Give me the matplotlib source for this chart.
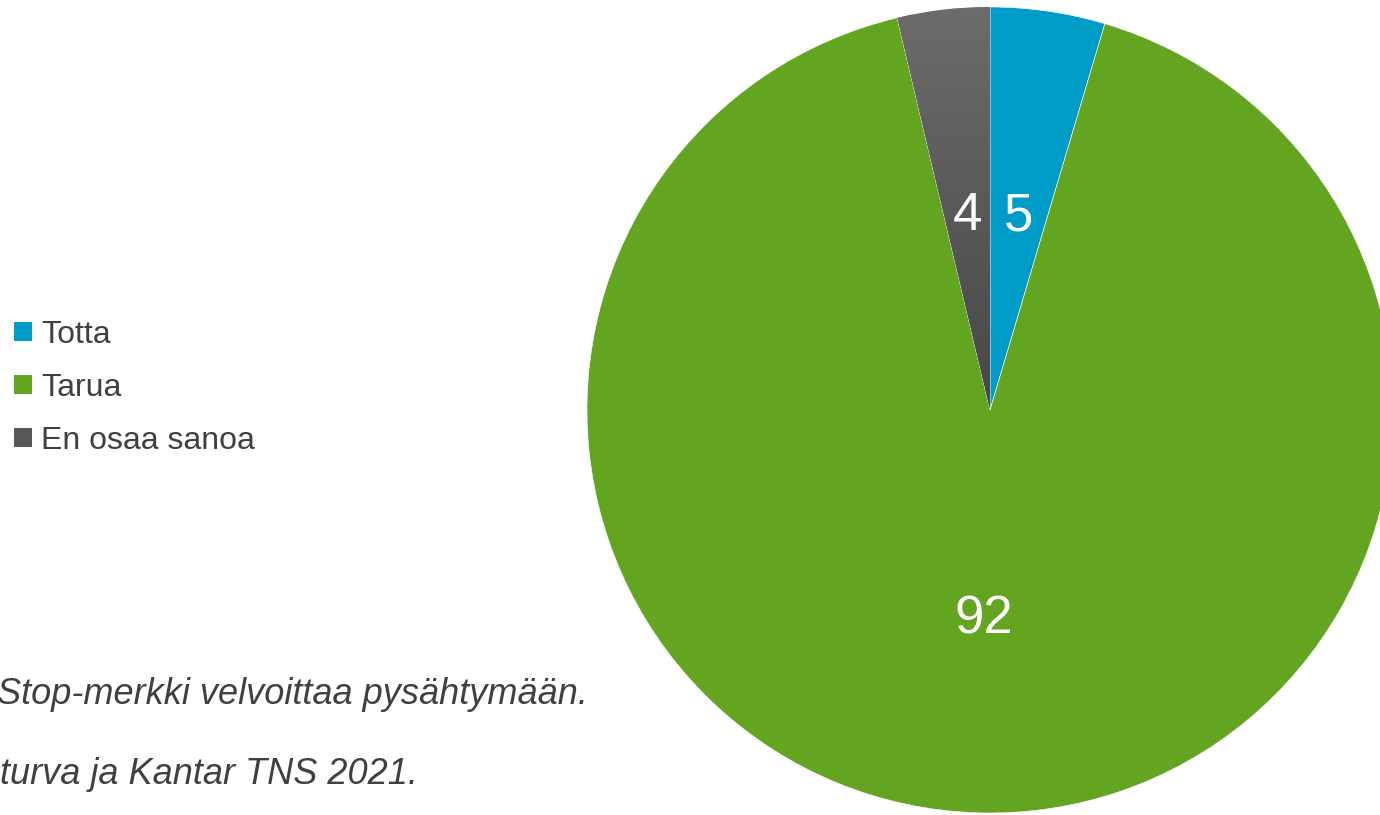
import matplotlib.pyplot as plt
import numpy as np
from matplotlib.patches import Patch
from matplotlib.colors import LinearSegmentedColormap

plt.rcParams['font.family'] = ['Liberation Sans', 'DejaVu Sans']

labels = ['Totta', 'Tarua', 'En osaa sanoa']
values = [4.6, 91.7, 3.7]
colors = ['#009cc8', '#63a421', '#5e5e5e']
notes = ['Stop-merkki velvoittaa pysähtymään.', 'turva ja Kantar TNS 2021.']

W, H = 1380, 815
fig = plt.figure(figsize=(W / 100, H / 100), dpi=100)

# pie centre and radius in pixels
cx, cy, r = 990, 410, 403
ax = fig.add_axes([(cx - r) / W, (H - cy - r) / H, 2 * r / W, 2 * r / H])
wedges, texts, autotexts = ax.pie(
    values, colors=colors, startangle=90, counterclock=False,
    autopct=lambda p: f'{p:.0f}', pctdistance=0.5,
    wedgeprops=dict(edgecolor='white', linewidth=0.4),
    textprops=dict(color='white', fontsize=38))
ax.set_xlim(-1, 1)
ax.set_ylim(-1, 1)
ax.set_aspect('equal')
ax.axis('off')

# label distance tweaks (top labels sit a bit closer to the centre)
for t, d in zip(autotexts, [0.485, 0.52, 0.485]):
    x, y = t.get_position()
    t.set_position((x * d / 0.5, y * d / 0.5))
    t.set_zorder(3)

# gradient on the "En osaa sanoa" slice
grad = np.linspace(0, 1, 256).reshape(-1, 1)
gcm = LinearSegmentedColormap.from_list('g', ['#6c6c6c', '#474747'])
im = ax.imshow(grad, cmap=gcm, extent=[-1, 1, 0, 1], aspect='auto', zorder=1.5)
im.set_clip_path(wedges[2])

handles = [Patch(facecolor=c, edgecolor='none') for c in colors]
handles[2] = Patch(facecolor='#585858', edgecolor='none')
fig.legend(handles, labels, loc='upper left', bbox_to_anchor=(14 / W, 1 - 320 / H),
           frameon=False, fontsize=23, handlelength=0.55, handleheight=0.55,
           handletextpad=0.3, labelspacing=0.72, borderaxespad=0, borderpad=0,
           labelcolor='#404040')

fig.text(588 / W, 1 - 695 / H, notes[0], ha='right', va='center', fontsize=26,
         style='italic', color='#404040')
fig.text(418 / W, 1 - 775 / H, notes[1], ha='right', va='center', fontsize=26,
         style='italic', color='#404040')

fig.savefig('out.png', dpi=100)
